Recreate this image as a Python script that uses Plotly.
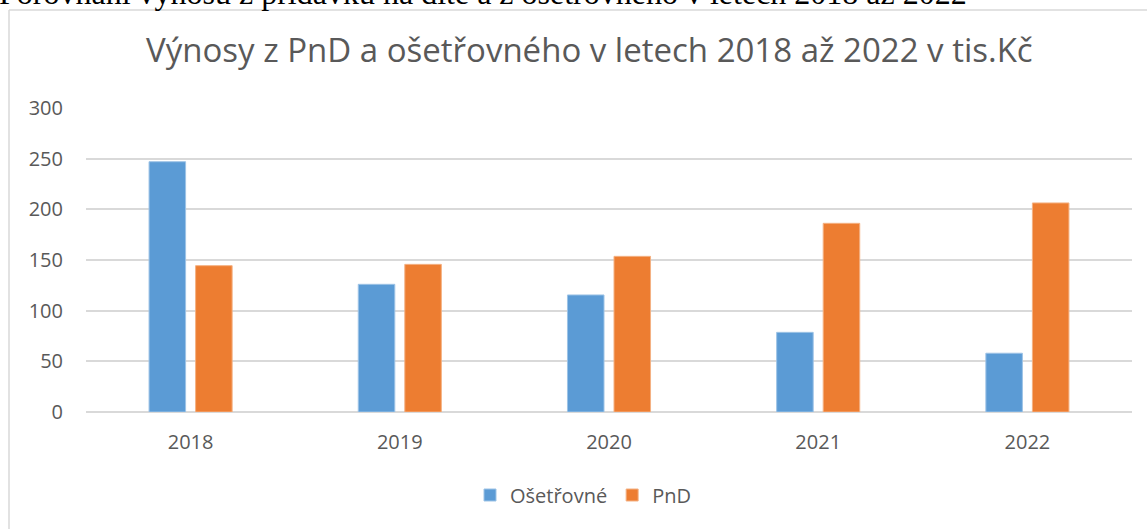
import plotly.graph_objects as go

years = ["2018", "2019", "2020", "2021", "2022"]
osetrovne = [247, 126, 115.5, 78.6, 58]
pnd = [144.4, 145.7, 153.6, 186.2, 206.3]
y_ticks = [0, 50, 100, 150, 200, 250, 300]

W, H = 1147, 529
L, R, T, B = 86, 1132, 108, 412  # plot area in pixels


def px(x):
    return (x - L) / (R - L)


def py(y):
    return (B - y) / (B - T)


fig = go.Figure()
fig.add_trace(go.Bar(name="Ošetřovné", x=years, y=osetrovne,
                     marker=dict(color="#5B9BD5", line=dict(color="#9DC3E6", width=1))))
fig.add_trace(go.Bar(name="PnD", x=years, y=pnd,
                     marker=dict(color="#ED7D31", line=dict(color="#F4B183", width=1))))

font_main = "Open Sans, Calibri, Carlito, sans-serif"

fig.update_layout(
    width=W, height=H,
    margin=dict(l=L, r=W - R, t=T, b=H - B, autoexpand=False),
    paper_bgcolor="white", plot_bgcolor="white",
    barmode="group", bargap=0.555, bargroupgap=0.215,
    showlegend=True,
    legend=dict(orientation="h", x=px(583), xanchor="center", y=py(495), yanchor="middle",
                font=dict(family=font_main, size=20, color="#595959"),
                itemwidth=30, traceorder="normal"),
    font=dict(family=font_main, color="#595959"),
    xaxis=dict(showgrid=False, showline=False, ticks="", tickfont=dict(size=20, color="#595959"),
               ticklabelstandoff=16),
    yaxis=dict(range=[0, 300], tickvals=y_ticks, showgrid=True, gridcolor="#D9D9D9", gridwidth=1.5,
               zeroline=True, zerolinecolor="#D9D9D9", zerolinewidth=1.5,
               tickfont=dict(size=20, color="#595959"), ticklabelstandoff=22),
    annotations=[
        dict(text="Výnosy z PnD a ošetřovného v letech 2018 až 2022 v tis.Kč",
             xref="paper", yref="paper", x=px(589), y=py(50), xanchor="center", yanchor="middle",
             showarrow=False, font=dict(family=font_main, size=33, color="#595959")),
        dict(text="Porovnání výnosů z přídavku na dítě a z ošetřovného v letech 2018 až 2022",
             xref="paper", yref="paper", x=px(-3), y=py(13), xanchor="left", yanchor="bottom",
             showarrow=False, font=dict(family="Liberation Serif, Times New Roman, serif", size=32, color="black")),
    ],
    shapes=[
        dict(type="line", xref="paper", yref="paper", x0=px(9), x1=px(W + 5), y0=py(10), y1=py(10),
             line=dict(color="#D9D9D9", width=1.5), layer="above"),
        dict(type="line", xref="paper", yref="paper", x0=px(9), x1=px(9), y0=py(10), y1=py(H + 5),
             line=dict(color="#D9D9D9", width=1.5)),
    ],
)

fig.write_html("out.html", config={"displayModeBar": False},
               post_script="document.body.style.margin='0';document.body.style.overflow='hidden';")
